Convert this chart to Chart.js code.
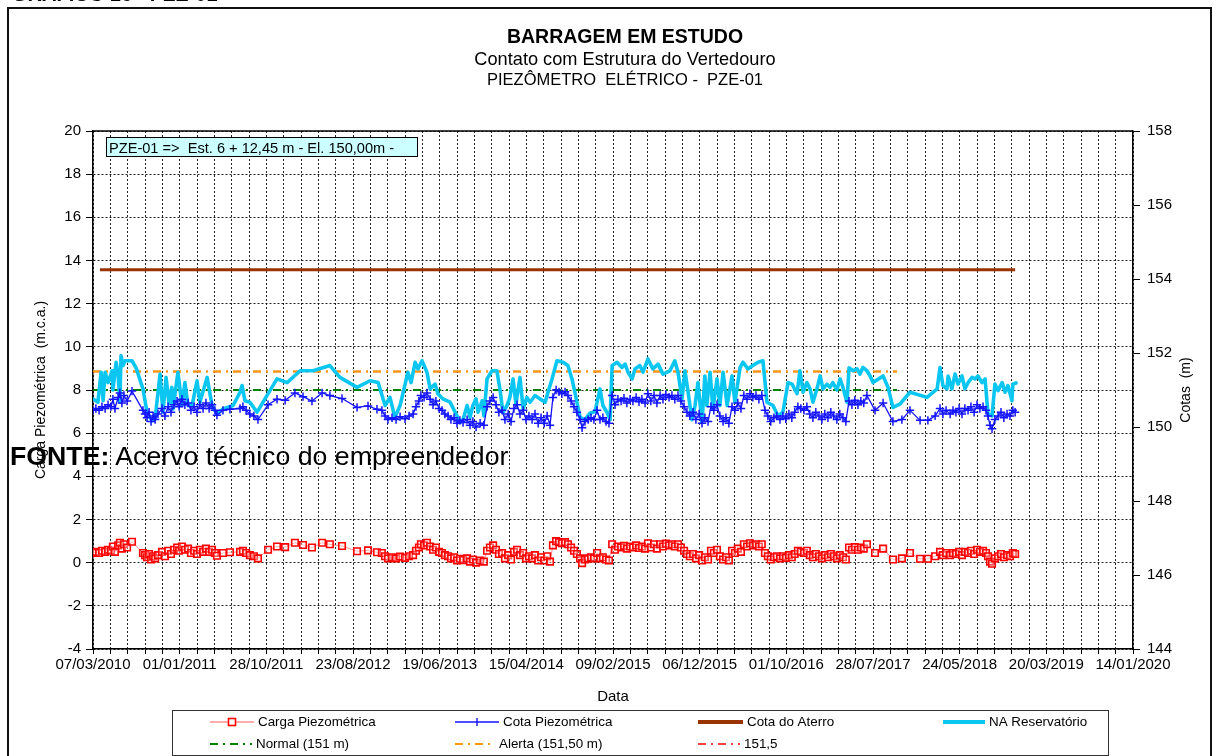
<!DOCTYPE html>
<html lang="pt-BR">
<head>
<meta charset="utf-8">
<title>PZE-01</title>
<script src="https://cdn.jsdelivr.net/npm/chart.js@4.4.1/dist/chart.umd.min.js"></script>
<style>
  html, body { margin: 0; padding: 0; background: #fff; }
  #wrap { position: relative; width: 1216px; height: 756px; overflow: hidden; }
  #grafico { position: absolute; left: 0; top: 0; }
  #cab { position: absolute; left: 12px; top: -16px; font: bold 20px/20px "Liberation Sans", Arial, sans-serif; color: #000; white-space: pre; }
  #fonte { position: absolute; left: 10px; top: 443px; font: 26.7px/26px "Liberation Sans", Arial, sans-serif; color: #000; white-space: pre; }
</style>
</head>
<body>
<div id="wrap">
  <canvas id="grafico" width="1216" height="756"></canvas>
  <div id="cab">GRÁFICO 16 - PZE-01</div>
  <div id="fonte"><b>FONTE:</b> Acervo técnico do empreendedor</div>
</div>
<script>
// Dias contados a partir de 07/03/2010 (origem do eixo de datas)
const rotulosDatas = ['07/03/2010','01/01/2011','28/10/2011','23/08/2012','19/06/2013','15/04/2014',
  '09/02/2015','06/12/2015','01/10/2016','28/07/2017','24/05/2018','20/03/2019','14/01/2020'];

// Leituras do piezômetro (dias desde 07/03/2010)
const diasLeitura = [
  0,10,21,31,42,52,62,69,76,87,
  93,100,107,118,135,173,180,187,194,201,
  208,215,225,239,249,260,270,280,291,298,
  308,318,329,339,350,360,370,381,391,402,
  412,422,429,450,474,509,519,530,543,557,
  571,606,637,665,699,727,758,793,820,862,
  914,952,983,1000,1011,1021,1035,1049,1063,1080,
  1094,1108,1118,1128,1135,1146,1156,1167,1177,1187,
  1198,1208,1218,1229,1239,1250,1260,1270,1281,1295,
  1305,1315,1326,1340,1353,1364,1374,1385,1395,1405,
  1416,1426,1437,1447,1457,1468,1478,1489,1499,1509,
  1520,1530,1541,1551,1562,1572,1582,1592,1603,1613,
  1623,1634,1644,1655,1665,1675,1686,1693,1703,1714,
  1724,1734,1745,1755,1765,1776,1786,1797,1807,1817,
  1828,1838,1848,1859,1869,1880,1890,1900,1911,1921,
  1931,1942,1952,1963,1973,1983,1994,2004,2014,2025,
  2035,2046,2056,2066,2077,2087,2098,2108,2118,2129,
  2139,2149,2160,2170,2181,2191,2201,2212,2222,2232,
  2243,2253,2264,2274,2284,2295,2305,2315,2326,2336,
  2346,2357,2367,2378,2388,2398,2409,2419,2429,2440,
  2450,2461,2471,2481,2492,2502,2513,2523,2533,2544,
  2554,2564,2575,2585,2596,2606,2617,2627,2637,2648,
  2658,2668,2679,2707,2735,2769,2800,2828,2863,2890,
  2915,2932,2942,2953,2967,2977,2987,2998,3008,3018,
  3029,3039,3050,3060,3070,3081,3091,3098,3105,3112,
  3122,3133,3143,3153,3164,3174,3184,3192
];

// Carga piezométrica (m.c.a.)
const cargaPiezometrica = [
  0.45,0.5,0.45,0.55,0.5,0.6,0.55,0.75,0.5,0.8,
  0.92,0.65,0.85,0.7,0.97,0.45,0.35,0.25,0.4,0.15,
  0.3,0.2,0.35,0.5,0.3,0.55,0.4,0.6,0.7,0.55,
  0.75,0.6,0.65,0.45,0.55,0.4,0.6,0.5,0.65,0.5,
  0.6,0.45,0.32,0.45,0.48,0.5,0.55,0.45,0.35,0.3,
  0.2,0.6,0.75,0.72,0.92,0.82,0.7,0.92,0.85,0.77,
  0.53,0.57,0.48,0.45,0.3,0.2,0.25,0.2,0.28,0.22,
  0.3,0.35,0.55,0.7,0.85,0.8,0.92,0.75,0.6,0.7,
  0.5,0.45,0.35,0.3,0.2,0.25,0.1,0.18,0.12,0.2,
  0.05,0.15,0.0,0.1,0.05,0.55,0.7,0.8,0.6,0.4,
  0.45,0.2,0.35,0.15,0.5,0.6,0.35,0.45,0.2,0.3,
  0.2,0.35,0.1,0.25,0.1,0.3,0.05,0.8,1.0,0.95,
  0.9,0.95,0.85,0.7,0.55,0.4,0.2,-0.02,0.15,0.2,
  0.25,0.2,0.45,0.2,0.25,0.15,0.1,0.85,0.6,0.75,
  0.7,0.78,0.65,0.75,0.7,0.8,0.68,0.75,0.65,0.9,
  0.7,0.85,0.65,0.85,0.75,0.88,0.8,0.85,0.75,0.85,
  0.7,0.55,0.4,0.3,0.4,0.2,0.35,0.1,0.25,0.15,
  0.55,0.45,0.6,0.3,0.15,0.25,0.1,0.55,0.45,0.65,
  0.5,0.85,0.75,0.9,0.8,0.85,0.75,0.85,0.45,0.3,
  0.15,0.25,0.3,0.2,0.3,0.22,0.35,0.25,0.4,0.55,
  0.5,0.45,0.55,0.35,0.25,0.4,0.3,0.2,0.35,0.25,
  0.4,0.3,0.2,0.35,0.25,0.15,0.7,0.6,0.72,0.6,
  0.7,0.65,0.85,0.45,0.65,0.15,0.2,0.45,0.18,0.18,
  0.3,0.5,0.35,0.45,0.35,0.45,0.4,0.5,0.35,0.5,
  0.45,0.55,0.4,0.6,0.5,0.55,0.45,0.3,0.05,-0.05,
  0.2,0.3,0.4,0.25,0.35,0.3,0.45,0.4
];

// Cota piezométrica (m)
const cotaPiezometrica = [
  150.45,150.5,150.45,150.55,150.5,150.6,150.55,150.75,150.5,150.8,
  150.92,150.65,150.85,150.7,150.97,150.45,150.35,150.25,150.4,150.15,
  150.3,150.2,150.35,150.5,150.3,150.55,150.4,150.6,150.7,150.55,
  150.75,150.6,150.65,150.45,150.55,150.4,150.6,150.5,150.65,150.5,
  150.6,150.45,150.32,150.45,150.48,150.5,150.55,150.45,150.35,150.3,
  150.2,150.6,150.75,150.72,150.92,150.82,150.7,150.92,150.85,150.77,
  150.53,150.57,150.48,150.45,150.3,150.2,150.25,150.2,150.28,150.22,
  150.3,150.35,150.55,150.7,150.85,150.8,150.92,150.75,150.6,150.7,
  150.5,150.45,150.35,150.3,150.2,150.25,150.1,150.18,150.12,150.2,
  150.05,150.15,150.0,150.1,150.05,150.55,150.7,150.8,150.6,150.4,
  150.45,150.2,150.35,150.15,150.5,150.6,150.35,150.45,150.2,150.3,
  150.2,150.35,150.1,150.25,150.1,150.3,150.05,150.8,151.0,150.95,
  150.9,150.95,150.85,150.7,150.55,150.4,150.2,149.98,150.15,150.2,
  150.25,150.2,150.45,150.2,150.25,150.15,150.1,150.85,150.6,150.75,
  150.7,150.78,150.65,150.75,150.7,150.8,150.68,150.75,150.65,150.9,
  150.7,150.85,150.65,150.85,150.75,150.88,150.8,150.85,150.75,150.85,
  150.7,150.55,150.4,150.3,150.4,150.2,150.35,150.1,150.25,150.15,
  150.55,150.45,150.6,150.3,150.15,150.25,150.1,150.55,150.45,150.65,
  150.5,150.85,150.75,150.9,150.8,150.85,150.75,150.85,150.45,150.3,
  150.15,150.25,150.3,150.2,150.3,150.22,150.35,150.25,150.4,150.55,
  150.5,150.45,150.55,150.35,150.25,150.4,150.3,150.2,150.35,150.25,
  150.4,150.3,150.2,150.35,150.25,150.15,150.7,150.6,150.72,150.6,
  150.7,150.65,150.85,150.45,150.65,150.15,150.2,150.45,150.18,150.18,
  150.3,150.5,150.35,150.45,150.35,150.45,150.4,150.5,150.35,150.5,
  150.45,150.55,150.4,150.6,150.5,150.55,150.45,150.3,150.05,149.95,
  150.2,150.3,150.4,150.25,150.35,150.3,150.45,150.4
];

// Nível d'água do reservatório (dias desde 07/03/2010, cota em m)
const diasReservatorio = [
  0,17,28,35,42,52,66,69,80,87,
  93,97,104,111,135,149,173,187,204,215,
  232,242,253,263,273,277,294,308,318,329,
  343,360,370,395,412,429,450,485,509,516,
  526,543,568,602,637,672,717,762,820,855,
  914,959,987,1011,1028,1045,1063,1090,1101,1115,
  1125,1139,1156,1167,1184,1194,1211,1236,1260,1270,
  1281,1295,1305,1315,1326,1333,1347,1353,1364,1381,
  1398,1409,1419,1433,1443,1454,1464,1478,1489,1502,
  1513,1530,1547,1565,1575,1589,1606,1627,1644,1658,
  1668,1686,1703,1720,1738,1755,1765,1779,1790,1797,
  1814,1831,1842,1852,1866,1876,1893,1904,1921,1938,
  1956,1973,1997,2014,2025,2039,2049,2060,2073,2084,
  2094,2108,2118,2125,2136,2146,2160,2170,2181,2195,
  2212,2222,2240,2250,2267,2284,2302,2319,2333,2354,
  2371,2388,2406,2420,2437,2447,2458,2471,2482,2492,
  2506,2517,2527,2541,2551,2561,2575,2586,2596,2610,
  2617,2631,2645,2655,2665,2679,2690,2700,2735,2752,
  2769,2793,2828,2887,2922,2932,2942,2956,2960,2973,
  2984,2994,3008,3018,3029,3043,3053,3063,3077,3088,
  3098,3112,3122,3133,3147,3157,3167,3181,3184,3195
];
const naReservatorio = [
  150.76,150.67,151.48,150.71,151.48,151.2,151.52,151.0,151.75,151.4,
  150.67,151.93,151.66,151.79,151.79,151.6,151.03,150.4,150.17,150.22,
  151.43,150.4,151.34,150.63,151.07,150.49,151.48,150.58,151.2,150.58,
  150.58,151.25,150.67,151.34,150.58,150.35,150.49,150.58,150.94,151.12,
  150.71,150.67,150.4,150.85,151.3,151.2,151.52,151.52,151.66,151.34,
  151.07,151.25,151.2,150.58,150.8,150.26,150.58,151.48,151.2,151.75,
  151.57,151.79,151.48,151.03,151.16,150.9,150.76,150.67,150.3,150.12,
  150.2,150.58,150.26,150.58,150.76,150.4,150.71,150.3,151.3,151.52,
  151.52,151.0,150.4,150.58,150.8,151.3,150.62,151.34,150.49,150.8,
  150.67,150.85,150.76,150.67,150.94,151.3,151.79,151.75,151.66,151.3,
  150.94,150.26,150.2,150.37,150.42,151.03,150.58,150.4,150.2,151.66,
  151.75,151.61,151.7,151.48,151.3,151.57,151.66,151.48,151.84,151.57,
  151.7,151.43,151.52,151.79,151.48,150.76,151.52,150.94,150.2,150.58,
  151.2,150.12,151.38,150.58,151.48,150.49,151.3,150.58,151.48,150.58,
  151.38,150.67,151.61,151.75,151.57,151.66,151.75,151.79,150.67,150.58,
  150.3,150.4,151.2,151.16,150.9,151.52,150.94,151.2,151.03,150.67,
  151.03,151.38,151.03,151.16,151.07,151.2,151.0,151.3,151.07,150.67,
  151.6,151.52,151.57,151.43,151.61,151.52,151.38,151.2,151.38,151.07,
  150.53,150.62,150.94,150.8,151.03,151.61,151.12,151.03,151.38,151.03,
  151.43,151.16,151.38,151.03,151.2,151.34,151.3,151.38,151.2,151.3,
  150.35,150.3,151.16,150.98,151.2,150.94,151.12,150.71,151.16,151.19
];

// Cotas de referência (m) e períodos em que aparecem (dias)
const diasAterro = [24, 3192];
const cotaAterro = [154.25, 154.25];
const diasLimites = [0, 2783];
const cotaNormal = [151, 151];
const cotaAlerta = [151.5, 151.5];
const cota1515 = [151.5, 151.5];

const FONTE = '"Liberation Sans", Arial, Helvetica, sans-serif';
Chart.defaults.font.family = FONTE;
Chart.defaults.color = '#000';

const pares = (xs, ys) => xs.map((x, i) => ({ x: x, y: ys[i] }));
const TRACO_PONTO = [8, 5, 2, 5];

const datasets = [
  {
    label: 'Carga Piezométrica', yAxisID: 'y',
    data: pares(diasLeitura, cargaPiezometrica),
    borderColor: 'rgba(255,70,70,0.6)', borderWidth: 1,
    pointStyle: 'rect', pointRadius: 4.6, pointBorderWidth: 1.6,
    pointBorderColor: '#ff0000', pointBackgroundColor: 'rgba(255,255,255,0.35)',
    legendaMarca: 'rect'
  },
  {
    label: 'Cota Piezométrica', yAxisID: 'y1',
    data: pares(diasLeitura, cotaPiezometrica),
    borderColor: '#1414ff', borderWidth: 1.3,
    pointStyle: 'cross', pointRadius: 4.2, pointBorderWidth: 1.5,
    pointBorderColor: '#1414ff',
    legendaMarca: 'cross'
  },
  {
    label: 'Cota do Aterro', yAxisID: 'y1',
    data: pares(diasAterro, cotaAterro),
    borderColor: '#993300', borderWidth: 3, pointRadius: 0
  },
  {
    label: 'NA Reservatório', yAxisID: 'y1',
    data: pares(diasReservatorio, naReservatorio),
    borderColor: '#0cc6f2', borderWidth: 3.6, borderJoinStyle: 'round', borderCapStyle: 'round',
    pointRadius: 0
  },
  {
    label: 'Normal (151 m)', yAxisID: 'y1',
    data: pares(diasLimites, cotaNormal),
    borderColor: '#008000', borderWidth: 2, borderDash: TRACO_PONTO, pointRadius: 0
  },
  {
    label: 'Alerta (151,50 m)', yAxisID: 'y1',
    data: pares(diasLimites, cotaAlerta),
    borderColor: '#ff9900', borderWidth: 2, borderDash: TRACO_PONTO, pointRadius: 0
  },
  {
    label: '151,5', yAxisID: 'y1',
    data: pares(diasLimites, cota1515),
    borderColor: '#ff0000', borderWidth: 1.5, borderDash: TRACO_PONTO, pointRadius: 0
  }
];

// Posições da legenda (amostra: x inicial, largura; linha y)
const legendaSlots = [
  { x: 210, w: 44, y: 722 }, { x: 455, w: 44, y: 722 }, { x: 698, w: 45, y: 722 }, { x: 943, w: 42, y: 722 },
  { x: 210, w: 42, y: 744 }, { x: 455, w: 40, y: 744 }, { x: 698, w: 42, y: 744 }
];

const desenhoExtra = {
  id: 'desenhoExtra',
  beforeDraw(chart) {
    const ctx = chart.ctx;
    ctx.save();
    ctx.fillStyle = '#fff';
    ctx.fillRect(0, 0, chart.width, chart.height);
    // moldura externa
    ctx.strokeStyle = '#111';
    ctx.lineWidth = 2;
    ctx.strokeRect(8, 8, 1203, 800);
    // títulos
    ctx.fillStyle = '#000';
    ctx.textAlign = 'center';
    ctx.textBaseline = 'alphabetic';
    ctx.font = 'bold 19.5px ' + FONTE;
    ctx.fillText('BARRAGEM EM ESTUDO', 625, 43);
    ctx.font = '18.2px ' + FONTE;
    ctx.fillText('Contato com Estrutura do Vertedouro', 625, 65);
    ctx.font = '16.5px ' + FONTE;
    ctx.fillText('PIEZÔMETRO  ELÉTRICO -  PZE-01', 625, 85);
    ctx.restore();
  },
  afterDraw(chart) {
    const ctx = chart.ctx;
    const a = chart.chartArea;
    ctx.save();
    // borda superior da área de plotagem
    ctx.strokeStyle = '#000';
    ctx.lineWidth = 1.5;
    ctx.beginPath();
    ctx.moveTo(a.left, a.top);
    ctx.lineTo(a.right, a.top);
    ctx.stroke();

    // títulos dos eixos
    ctx.fillStyle = '#000';
    ctx.font = '15px ' + FONTE;
    ctx.textAlign = 'center';
    ctx.textBaseline = 'alphabetic';
    ctx.fillText('Data', (a.left + a.right) / 2, 701);
    ctx.font = '14px ' + FONTE;
    ctx.textBaseline = 'middle';
    ctx.save();
    ctx.translate(41, (a.top + a.bottom) / 2);
    ctx.rotate(-Math.PI / 2);
    ctx.fillText('Carga Piezométrica  (m.c.a.)', 0, 0);
    ctx.restore();
    ctx.save();
    ctx.translate(1186, (a.top + a.bottom) / 2);
    ctx.rotate(-Math.PI / 2);
    ctx.fillText('Cotas  (m)', 0, 0);
    ctx.restore();

    // caixa de identificação do instrumento
    ctx.fillStyle = '#ccffff';
    ctx.fillRect(106.5, 137.5, 311, 19);
    ctx.strokeStyle = '#000';
    ctx.lineWidth = 1;
    ctx.strokeRect(106.5, 137.5, 311, 19);
    ctx.fillStyle = '#000';
    ctx.font = '14.6px ' + FONTE;
    ctx.textAlign = 'left';
    ctx.textBaseline = 'alphabetic';
    ctx.fillText('PZE-01 =>  Est. 6 + 12,45 m - El. 150,00m -', 109, 153);

    // legenda
    ctx.strokeStyle = '#333';
    ctx.lineWidth = 1;
    ctx.strokeRect(172.5, 710.5, 936, 45);
    ctx.font = '13.4px ' + FONTE;
    ctx.textBaseline = 'middle';
    chart.data.datasets.forEach((ds, i) => {
      const s = legendaSlots[i];
      if (!s) return;
      ctx.save();
      ctx.strokeStyle = ds.borderColor;
      ctx.lineWidth = Math.max(ds.borderWidth, ds.borderWidth > 2.5 ? 4 : 1.5);
      ctx.setLineDash(ds.borderDash || []);
      ctx.beginPath();
      ctx.moveTo(s.x, s.y);
      ctx.lineTo(s.x + s.w, s.y);
      ctx.stroke();
      ctx.setLineDash([]);
      const cx = s.x + s.w / 2;
      if (ds.legendaMarca === 'rect') {
        ctx.fillStyle = '#fff';
        ctx.fillRect(cx - 3.5, s.y - 3.5, 7, 7);
        ctx.strokeStyle = ds.pointBorderColor;
        ctx.lineWidth = 1.6;
        ctx.strokeRect(cx - 3.5, s.y - 3.5, 7, 7);
      } else if (ds.legendaMarca === 'cross') {
        ctx.strokeStyle = ds.pointBorderColor;
        ctx.lineWidth = 1.4;
        ctx.beginPath();
        ctx.moveTo(cx, s.y - 4); ctx.lineTo(cx, s.y + 4);
        ctx.stroke();
      }
      ctx.restore();
      ctx.fillStyle = '#000';
      ctx.textAlign = 'left';
      ctx.fillText(ds.label, s.x + s.w + 4, s.y);
    });
    ctx.restore();
  }
};

const corGrade = 'rgba(0,0,0,0.85)';

new Chart(document.getElementById('grafico'), {
  type: 'line',
  data: { datasets: datasets },
  options: {
    responsive: false,
    animation: false,
    devicePixelRatio: 1,
    layout: { padding: { top: 131, bottom: 75, left: 0, right: 0 } },
    elements: { line: { tension: 0 } },
    plugins: { legend: { display: false }, tooltip: { enabled: false }, title: { display: false } },
    scales: {
      x: {
        type: 'linear', min: 0, max: 3600,
        afterBuildTicks: (s) => {
          const t = [];
          for (let v = 0; v <= 3600; v += 60) t.push({ value: v });
          s.ticks = t;
        },
        afterFit: (s) => { s.height = 32; },
        ticks: {
          autoSkip: false, maxRotation: 0, minRotation: 0, padding: 2,
          font: { size: 15 }, color: '#000',
          callback: (v) => (v % 300 === 0 ? rotulosDatas[v / 300] : '')
        },
        grid: { color: corGrade, lineWidth: 1, tickLength: 5, tickColor: '#000', tickWidth: 1, tickBorderDash: [] },
        border: { display: true, color: '#000', width: 1.5, dash: [2, 2] }
      },
      y: {
        position: 'left', min: -4, max: 20,
        afterFit: (s) => { s.width = 93; },
        ticks: { stepSize: 2, padding: 5, font: { size: 15 }, color: '#000' },
        grid: { color: corGrade, lineWidth: 1, tickLength: 7, tickColor: '#000', tickWidth: 1, tickBorderDash: [] },
        border: { display: true, color: '#000', width: 1.5, dash: [2, 2] }
      },
      y1: {
        position: 'right', min: 144, max: 158,
        afterFit: (s) => { s.width = 83; },
        ticks: { stepSize: 2, padding: 7, font: { size: 15 }, color: '#000' },
        grid: { drawOnChartArea: false, tickLength: 7, tickColor: '#000', tickWidth: 1, tickBorderDash: [] },
        border: { display: true, color: '#000', width: 1.5 }
      }
    }
  },
  plugins: [desenhoExtra]
});
</script>
</body>
</html>
